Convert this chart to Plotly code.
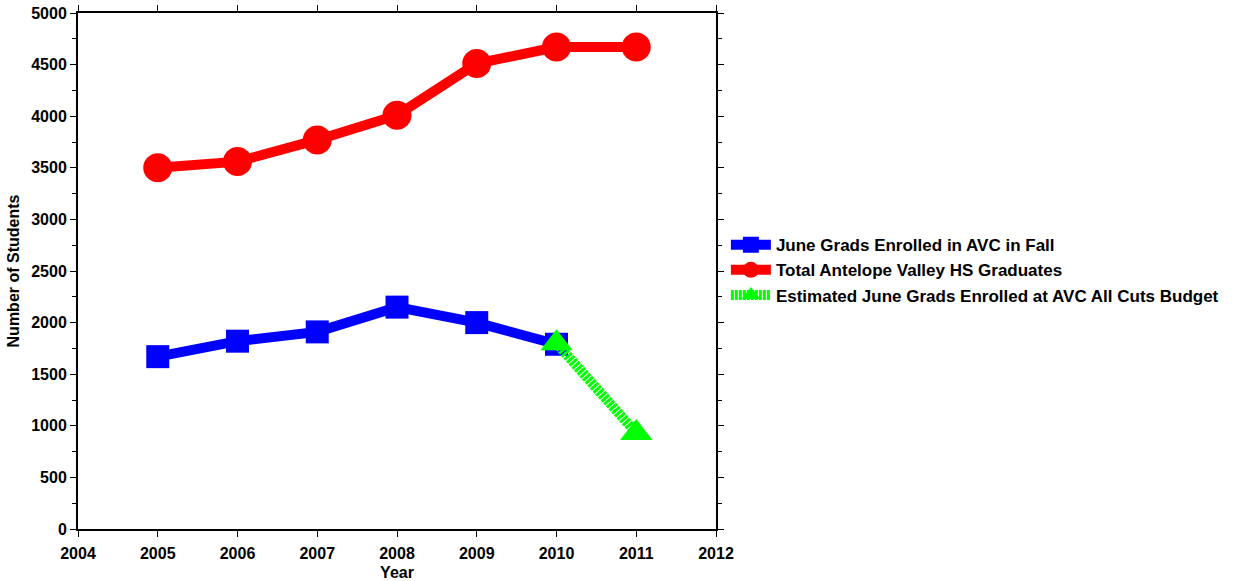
import plotly.graph_objects as go

years_main = [2005, 2006, 2007, 2008, 2009, 2010, 2011]
total_grads = [3500, 3560, 3770, 4010, 4510, 4670, 4670]
years_enrolled = [2005, 2006, 2007, 2008, 2009, 2010]
enrolled = [1670, 1820, 1910, 2150, 2000, 1790]
years_est = [2010, 2011]
estimated = [1800, 930]

FONT = "Liberation Sans"

fig = go.Figure()
fig.add_trace(go.Scatter(
    x=years_enrolled, y=enrolled, mode="lines+markers",
    name="June Grads Enrolled in AVC in Fall",
    line=dict(color="#0000ff", width=10),
    marker=dict(symbol="square", size=23, color="#0000ff"),
))
fig.add_trace(go.Scatter(
    x=years_main, y=total_grads, mode="lines+markers",
    name="Total Antelope Valley HS Graduates",
    line=dict(color="#ff0000", width=10),
    marker=dict(symbol="circle", size=29, color="#ff0000"),
))
fig.add_trace(go.Scatter(
    x=years_est, y=estimated, mode="lines+markers",
    name="Estimated June Grads Enrolled at AVC All Cuts Budget",
    line=dict(color="#00ff00", width=10, dash="3px,1px"),
    marker=dict(symbol="triangle-up", size=28, color="#00ff00"),
))

axis_common = dict(
    showline=True, linecolor="black", linewidth=2, mirror="ticks",
    ticks="outside", ticklen=6, tickcolor="black", showgrid=False, zeroline=False,
    automargin=False,
    tickfont=dict(family=FONT, size=16, color="black", weight="bold"),
)

fig.update_xaxes(
    range=[2004, 2012], dtick=1, tick0=2004, ticklabelstandoff=3,
    title=dict(text="Year", font=dict(family=FONT, size=16, color="black", weight="bold"), standoff=8),
    **axis_common,
)
fig.update_yaxes(
    range=[0, 5000], dtick=500,
    minor=dict(dtick=250, ticks="outside", ticklen=4, tickcolor="black"),
    title=dict(text="Number of Students", font=dict(family=FONT, size=16, color="black", weight="bold"), standoff=8),
    **axis_common,
)

fig.update_layout(
    width=1236, height=581,
    paper_bgcolor="white", plot_bgcolor="white",
    margin=dict(l=78, r=518, t=13, b=52),
    legend=dict(
        x=1.0155, y=0.585, xanchor="left", yanchor="top",
        font=dict(family=FONT, size=17, color="black", weight="bold"),
        bgcolor="rgba(0,0,0,0)", itemwidth=40, tracegroupgap=0,
    ),
    showlegend=True,
)

fig.write_html(
    "out.html",
    config={"displayModeBar": False},
    post_script="document.body.style.margin='0';document.body.style.overflow='hidden';",
)
